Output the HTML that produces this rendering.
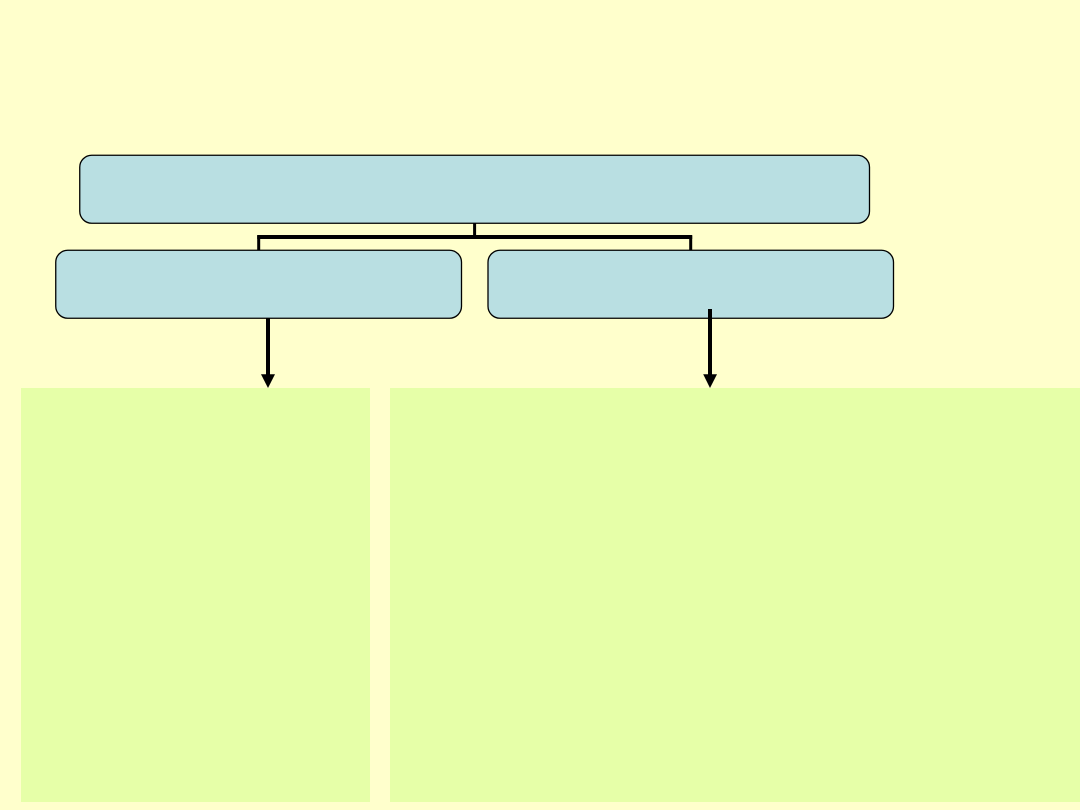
<!DOCTYPE html>
<html>
<head>
<meta charset="utf-8">
<style>
html,body{margin:0;padding:0;background:#FFFFCC;}
svg{display:block;}
</style>
</head>
<body>
<svg width="1080" height="810" viewBox="0 0 1080 810" xmlns="http://www.w3.org/2000/svg">
<rect x="0" y="0" width="1080" height="810" fill="#FFFFCC"/>
<rect x="21" y="388" width="349" height="414" fill="#E6FFA8"/>
<rect x="390" y="388" width="690" height="414" fill="#E6FFA8"/>
<rect x="79.75" y="155.25" width="789.75" height="68" rx="12" ry="12" fill="#B9DFE2" stroke="#000" stroke-width="1.3"/>
<rect x="55.75" y="250.25" width="405.75" height="68" rx="12" ry="12" fill="#B9DFE2" stroke="#000" stroke-width="1.3"/>
<rect x="488" y="250.25" width="405.5" height="68" rx="12" ry="12" fill="#B9DFE2" stroke="#000" stroke-width="1.3"/>
<path d="M474.6 223.5V237" fill="none" stroke="#000" stroke-width="3"/>
<path d="M258.7 250V237H690.7V250" fill="none" stroke="#000" stroke-width="3"/>
<rect x="257.2" y="235" width="435" height="4" fill="#000"/>
<path d="M268 318.5V375" fill="none" stroke="#000" stroke-width="4"/>
<path d="M261 374.3H275L268 388Z" fill="#000"/>
<path d="M710 309V375" fill="none" stroke="#000" stroke-width="4"/>
<path d="M703.2 374.3H717L710 388Z" fill="#000"/>
</svg>
</body>
</html>
